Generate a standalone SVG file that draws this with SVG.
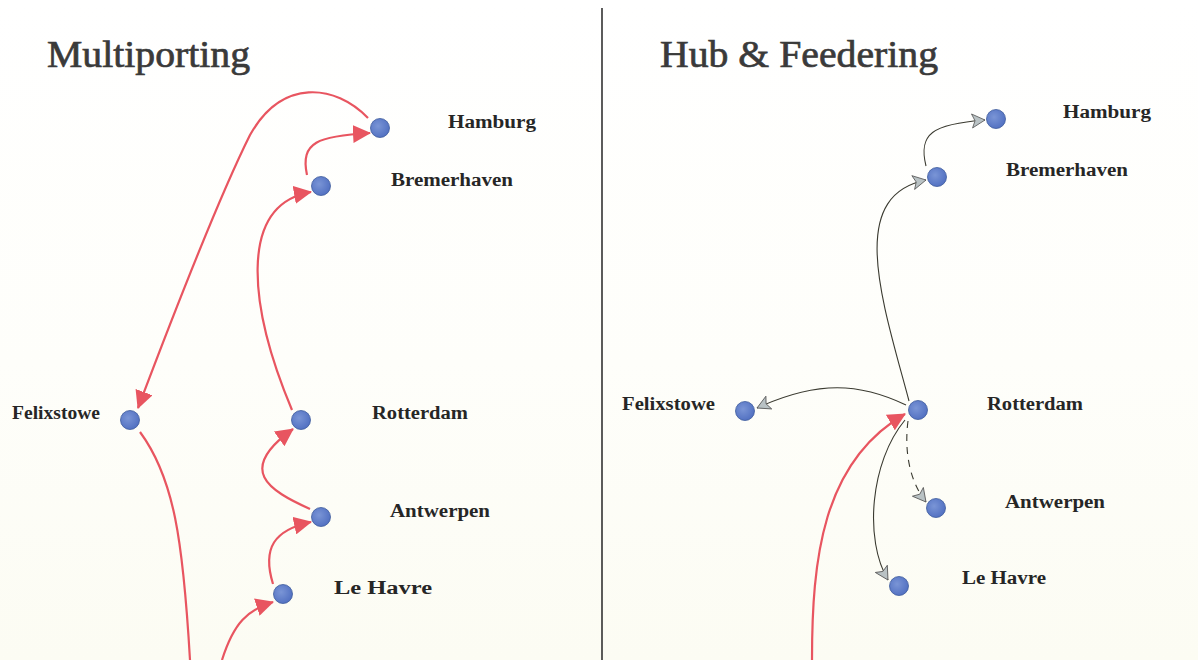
<svg xmlns="http://www.w3.org/2000/svg" width="1198" height="660" viewBox="0 0 1198 660">
  <defs>
    <linearGradient id="bg" x1="0" y1="0" x2="0" y2="1">
      <stop offset="0" stop-color="#ffffff"/>
      <stop offset="0.55" stop-color="#fefefa"/>
      <stop offset="1" stop-color="#fcfcf3"/>
    </linearGradient>
    <radialGradient id="dot" cx="0.4" cy="0.4" r="0.7">
      <stop offset="0" stop-color="#7a95d6"/>
      <stop offset="1" stop-color="#4d6cbf"/>
    </radialGradient>
    <marker id="redHead" markerUnits="userSpaceOnUse" markerWidth="22" markerHeight="18" refX="17" refY="9" orient="auto">
      <path d="M0,0 L18,9 L0,18 Z" fill="#e85560"/>
    </marker>
    <marker id="grayHead" markerUnits="userSpaceOnUse" markerWidth="18" markerHeight="16" refX="14" refY="8" orient="auto">
      <path d="M1,1 L14,8 L1,15 L4,8 Z" fill="#b9c2c4" stroke="#555" stroke-width="0.8"/>
    </marker>
    <style>
      .title { font-family: "Liberation Serif", "Times New Roman", serif; font-size: 38px; fill: #3a3a3a; stroke: #3a3a3a; stroke-width: 0.7; }
      .label { font-family: "Liberation Serif", "Times New Roman", serif; font-size: 18px; font-weight: bold; fill: #262626; }
      .port { fill: url(#dot); stroke: #3c5a9c; stroke-width: 0.8; }
      .red { fill: none; stroke: #e85560; stroke-width: 2.2; }
      .feed { fill: none; stroke: #3a3a30; stroke-width: 1.1; }
      .dash { stroke-dasharray: 7 6; }
    </style>
  </defs>

  <rect width="1198" height="660" fill="url(#bg)"/>
  <line x1="602" y1="8" x2="602" y2="660" stroke="#333" stroke-width="1.6"/>

  <text class="title" x="47" y="67" textLength="203" lengthAdjust="spacingAndGlyphs">Multiporting</text>
  <text class="title" x="660" y="67" textLength="278" lengthAdjust="spacingAndGlyphs">Hub &amp; Feedering</text>

  <!-- Multiporting route -->
  <g id="multiporting-connectors">
    <path class="red" d="M222,660 C234,622 248,610 273,602" marker-end="url(#redHead)"/>
    <path class="red" d="M273,584 C262,548 274,530 311,522" marker-end="url(#redHead)"/>
    <path class="red" d="M310,509 C268,490 236,470 293,429" marker-end="url(#redHead)"/>
    <path class="red" d="M292,410 C250,310 236,205 311,192" marker-end="url(#redHead)"/>
    <path class="red" d="M307,175 C300,142 318,136 370,133" marker-end="url(#redHead)"/>
    <path class="red" d="M368,118 C335,84 282,78 250,135 C220,195 172,318 138,408" marker-end="url(#redHead)"/>
    <path class="red" d="M140,432 C174,478 183,540 190,660"/>
  </g>

  <g id="mp-hamburg"><circle class="port" cx="380" cy="128" r="9.5"/><text class="label" x="448" y="128" textLength="88" lengthAdjust="spacingAndGlyphs">Hamburg</text></g>
  <g id="mp-bremerhaven"><circle class="port" cx="321" cy="186" r="9.5"/><text class="label" x="391" y="186" textLength="122" lengthAdjust="spacingAndGlyphs">Bremerhaven</text></g>
  <g id="mp-felixstowe"><circle class="port" cx="130" cy="420" r="9.5"/><text class="label" x="12" y="419" textLength="88" lengthAdjust="spacingAndGlyphs">Felixstowe</text></g>
  <g id="mp-rotterdam"><circle class="port" cx="301" cy="420" r="9.5"/><text class="label" x="372" y="419" textLength="96" lengthAdjust="spacingAndGlyphs">Rotterdam</text></g>
  <g id="mp-antwerpen"><circle class="port" cx="321" cy="517" r="9.5"/><text class="label" x="390" y="517" textLength="100" lengthAdjust="spacingAndGlyphs">Antwerpen</text></g>
  <g id="mp-lehavre"><circle class="port" cx="283" cy="594" r="9.5"/><text class="label" x="334" y="594" textLength="98" lengthAdjust="spacingAndGlyphs">Le Havre</text></g>

  <!-- Hub & feeder routes -->
  <g id="hub-connectors">
    <path class="red" d="M812,660 C812,560 822,462 905,414" marker-end="url(#redHead)"/>
    <path class="feed" d="M909,401 C882,300 846,196 926,180" marker-end="url(#grayHead)"/>
    <path class="feed" d="M926,166 C918,134 932,124 985,120" marker-end="url(#grayHead)"/>
    <path class="feed" d="M906,405 C860,383 818,380 757,408" marker-end="url(#grayHead)"/>
    <path class="feed dash" d="M908,421 C904,452 910,482 926,502" marker-end="url(#grayHead)"/>
    <path class="feed" d="M905,420 C870,462 864,540 888,580" marker-end="url(#grayHead)"/>
  </g>

  <g id="hf-hamburg"><circle class="port" cx="996" cy="119" r="9.5"/><text class="label" x="1063" y="118" textLength="88" lengthAdjust="spacingAndGlyphs">Hamburg</text></g>
  <g id="hf-bremerhaven"><circle class="port" cx="937" cy="177" r="9.5"/><text class="label" x="1006" y="176" textLength="122" lengthAdjust="spacingAndGlyphs">Bremerhaven</text></g>
  <g id="hf-felixstowe"><circle class="port" cx="745" cy="411" r="9.5"/><text class="label" x="622" y="410" textLength="93" lengthAdjust="spacingAndGlyphs">Felixstowe</text></g>
  <g id="hf-rotterdam"><circle class="port" cx="918" cy="410" r="9.5"/><text class="label" x="987" y="410" textLength="96" lengthAdjust="spacingAndGlyphs">Rotterdam</text></g>
  <g id="hf-antwerpen"><circle class="port" cx="936" cy="508" r="9.5"/><text class="label" x="1005" y="508" textLength="100" lengthAdjust="spacingAndGlyphs">Antwerpen</text></g>
  <g id="hf-lehavre"><circle class="port" cx="899" cy="586" r="9.5"/><text class="label" x="962" y="584" textLength="84" lengthAdjust="spacingAndGlyphs">Le Havre</text></g>
</svg>
